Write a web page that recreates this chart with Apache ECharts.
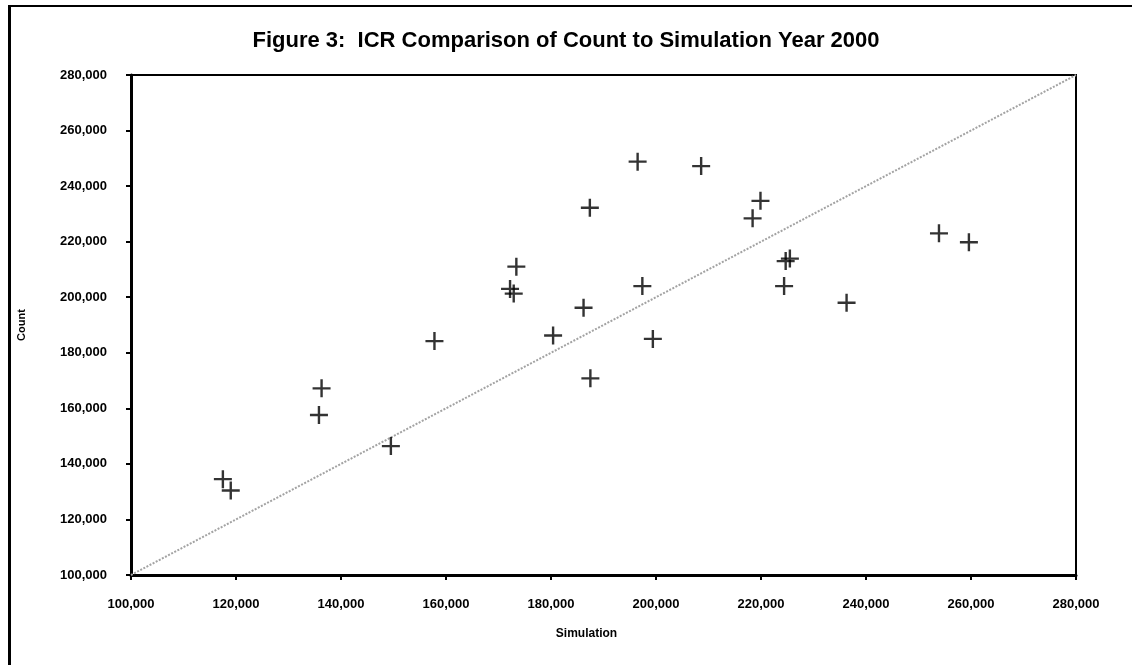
<!DOCTYPE html>
<html>
<head>
<meta charset="utf-8">
<script src="https://cdn.jsdelivr.net/npm/echarts@6/dist/echarts.min.js"></script>
<style>
  html, body { margin: 0; padding: 0; background: #fff; }
  #frame { position: absolute; left: 8px; top: 5px; width: 1130px; height: 670px;
           border-left: 3px solid #000; border-top: 2px solid #000; }
  #chart { position: absolute; left: 0; top: 0; width: 1132px; height: 665px; }
</style>
</head>
<body>
<div id="frame"></div>
<div id="chart"></div>
<script>
// Year 2000 ICR: simulated vs counted volumes
const simulation = [117500, 119000, 136300, 135800, 149500, 157800, 172200, 172900, 173400,
                    180400, 186200, 187400, 187500, 196500, 197400, 199400, 208600, 218400,
                    219900, 224400, 224700, 225500, 236300, 253900, 259600];
const count      = [134500, 130400, 167200, 157600, 146400, 184200, 203000, 201300, 211000,
                    186200, 196200, 232200, 170800, 248800, 204000, 185000, 247200, 228400,
                    234700, 204000, 213000, 213900, 198000, 223000, 219800];
const equalityLine = [100000, 280000];
const axisMin = 100000, axisMax = 280000, axisStep = 20000;

const points = simulation.map((s, i) => [s, count[i]]);
const diagonal = equalityLine.map(v => [v, v]);

const FONT = '"Liberation Sans", Arial, sans-serif';
const fmt = v => v.toLocaleString('en-US');

const chart = echarts.init(document.getElementById('chart'));
chart.setOption({
  animation: false,
  backgroundColor: 'transparent',
  title: {
    text: 'Figure 3:  ICR Comparison of Count to Simulation Year 2000',
    left: 'center',
    top: 25,
    textStyle: { fontFamily: FONT, fontWeight: 'bold', fontSize: 22, color: '#000' }
  },
  grid: {
    left: 131, top: 75, right: 56, bottom: 90,
    show: true, borderColor: '#000', borderWidth: 2, backgroundColor: '#fff'
  },
  xAxis: {
    type: 'value', min: axisMin, max: axisMax, interval: axisStep,
    name: 'Simulation', nameLocation: 'middle', nameGap: 53,
    nameTextStyle: { fontFamily: FONT, fontWeight: 'bold', fontSize: 12, color: '#000', padding: [0, 34, 0, 0] },
    axisLine: { show: true, lineStyle: { color: '#000', width: 3 } },
    axisTick: { show: true, length: 5, lineStyle: { color: '#000', width: 2 } },
    axisLabel: { margin: 23, formatter: fmt, fontFamily: FONT, fontWeight: 'bold', fontSize: 13, color: '#000' },
    splitLine: { show: false }
  },
  yAxis: {
    type: 'value', min: axisMin, max: axisMax, interval: axisStep,
    name: 'Count', nameLocation: 'middle', nameGap: 104,
    nameTextStyle: { fontFamily: FONT, fontWeight: 'bold', fontSize: 11, color: '#000' },
    axisLine: { show: true, lineStyle: { color: '#000', width: 3 } },
    axisTick: { show: true, length: 5, lineStyle: { color: '#000', width: 2 } },
    axisLabel: { margin: 24, formatter: fmt, fontFamily: FONT, fontWeight: 'bold', fontSize: 13, color: '#000' },
    splitLine: { show: false }
  },
  series: [
    {
      type: 'line',
      data: diagonal,
      symbol: 'none',
      silent: true,
      lineStyle: { color: '#a3a3a3', width: 2, type: [2, 1.5] },
      z: 1
    },
    {
      type: 'scatter',
      data: points,
      symbol: 'path://M7.8,0h2.4v7.8h7.8v2.4h-7.8v7.8h-2.4v-7.8h-7.8v-2.4h7.8z',
      symbolSize: 18,
      itemStyle: { color: '#000' },
      z: 2
    }
  ]
});
</script>
</body>
</html>
